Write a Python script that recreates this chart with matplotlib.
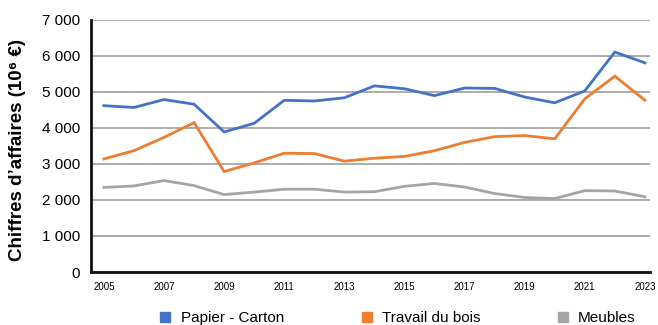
import matplotlib
matplotlib.use("Agg")
import matplotlib.pyplot as plt
from matplotlib.lines import Line2D
from matplotlib.ticker import FuncFormatter

plt.rcParams['font.family'] = ['Liberation Sans', 'DejaVu Sans']

years = list(range(2005, 2024))
papier_carton = [4620, 4570, 4790, 4660, 3890, 4130, 4770, 4750, 4840, 5170, 5090, 4900,
                 5110, 5100, 4860, 4700, 5030, 6110, 5810]
travail_bois = [3140, 3370, 3740, 4150, 2790, 3030, 3300, 3290, 3080, 3160, 3210, 3370,
                3600, 3760, 3790, 3700, 4810, 5440, 4770]
meubles = [2350, 2390, 2540, 2400, 2150, 2220, 2300, 2300, 2220, 2230, 2380, 2460,
           2360, 2180, 2070, 2040, 2260, 2250, 2090]
series_names = ["Papier - Carton", "Travail du bois", "Meubles"]
colors = ["#4472C4", "#ED7D31", "#A5A5A5"]
xticks = list(range(2005, 2024, 2))
yticks = list(range(0, 7001, 1000))
ylabel = "Chiffres d\u2019affaires (10\u2076 \u20ac)"

fig = plt.figure(figsize=(6.58, 3.25), dpi=100)
ax = fig.add_axes([91/658, 1 - 272/325, (650-91)/658, (272-20)/325])

for vals, c in zip([papier_carton, travail_bois, meubles], colors):
    ax.plot(years, vals, color=c, lw=2.0, solid_joinstyle='miter')

ax.set_xlim(2004.57, 2023.17)
ax.set_ylim(0, 7000)
ax.set_xticks(xticks)
ax.set_yticks(yticks)
ax.yaxis.set_major_formatter(FuncFormatter(lambda v, p: f"{int(v):,}".replace(",", " ")))
ax.tick_params(axis='y', length=0, labelsize=11, pad=8)
ax.tick_params(axis='x', length=0, labelsize=7, pad=7)
ax.grid(axis='y', color='#A6A6A6', lw=1.3)
ax.set_axisbelow(True)
for s in ['top', 'right']:
    ax.spines[s].set_visible(False)
for s in ['left', 'bottom']:
    ax.spines[s].set_linewidth(2.0)
    ax.spines[s].set_color('#111111')
ax.set_ylabel(ylabel, fontsize=13.5, fontweight='bold')
ax.yaxis.set_label_coords(-65/559, 0.485)

handles = [Line2D([], [], marker='s', ls='none', color=c, markersize=7) for c in colors]
fig.legend(handles, series_names, loc='center', bbox_to_anchor=(0.603, 1 - 318/325),
           ncol=3, frameon=False, fontsize=11, handletextpad=0.5, columnspacing=4.9,
           handlelength=1.0)

fig.savefig("out.png", dpi=100)
